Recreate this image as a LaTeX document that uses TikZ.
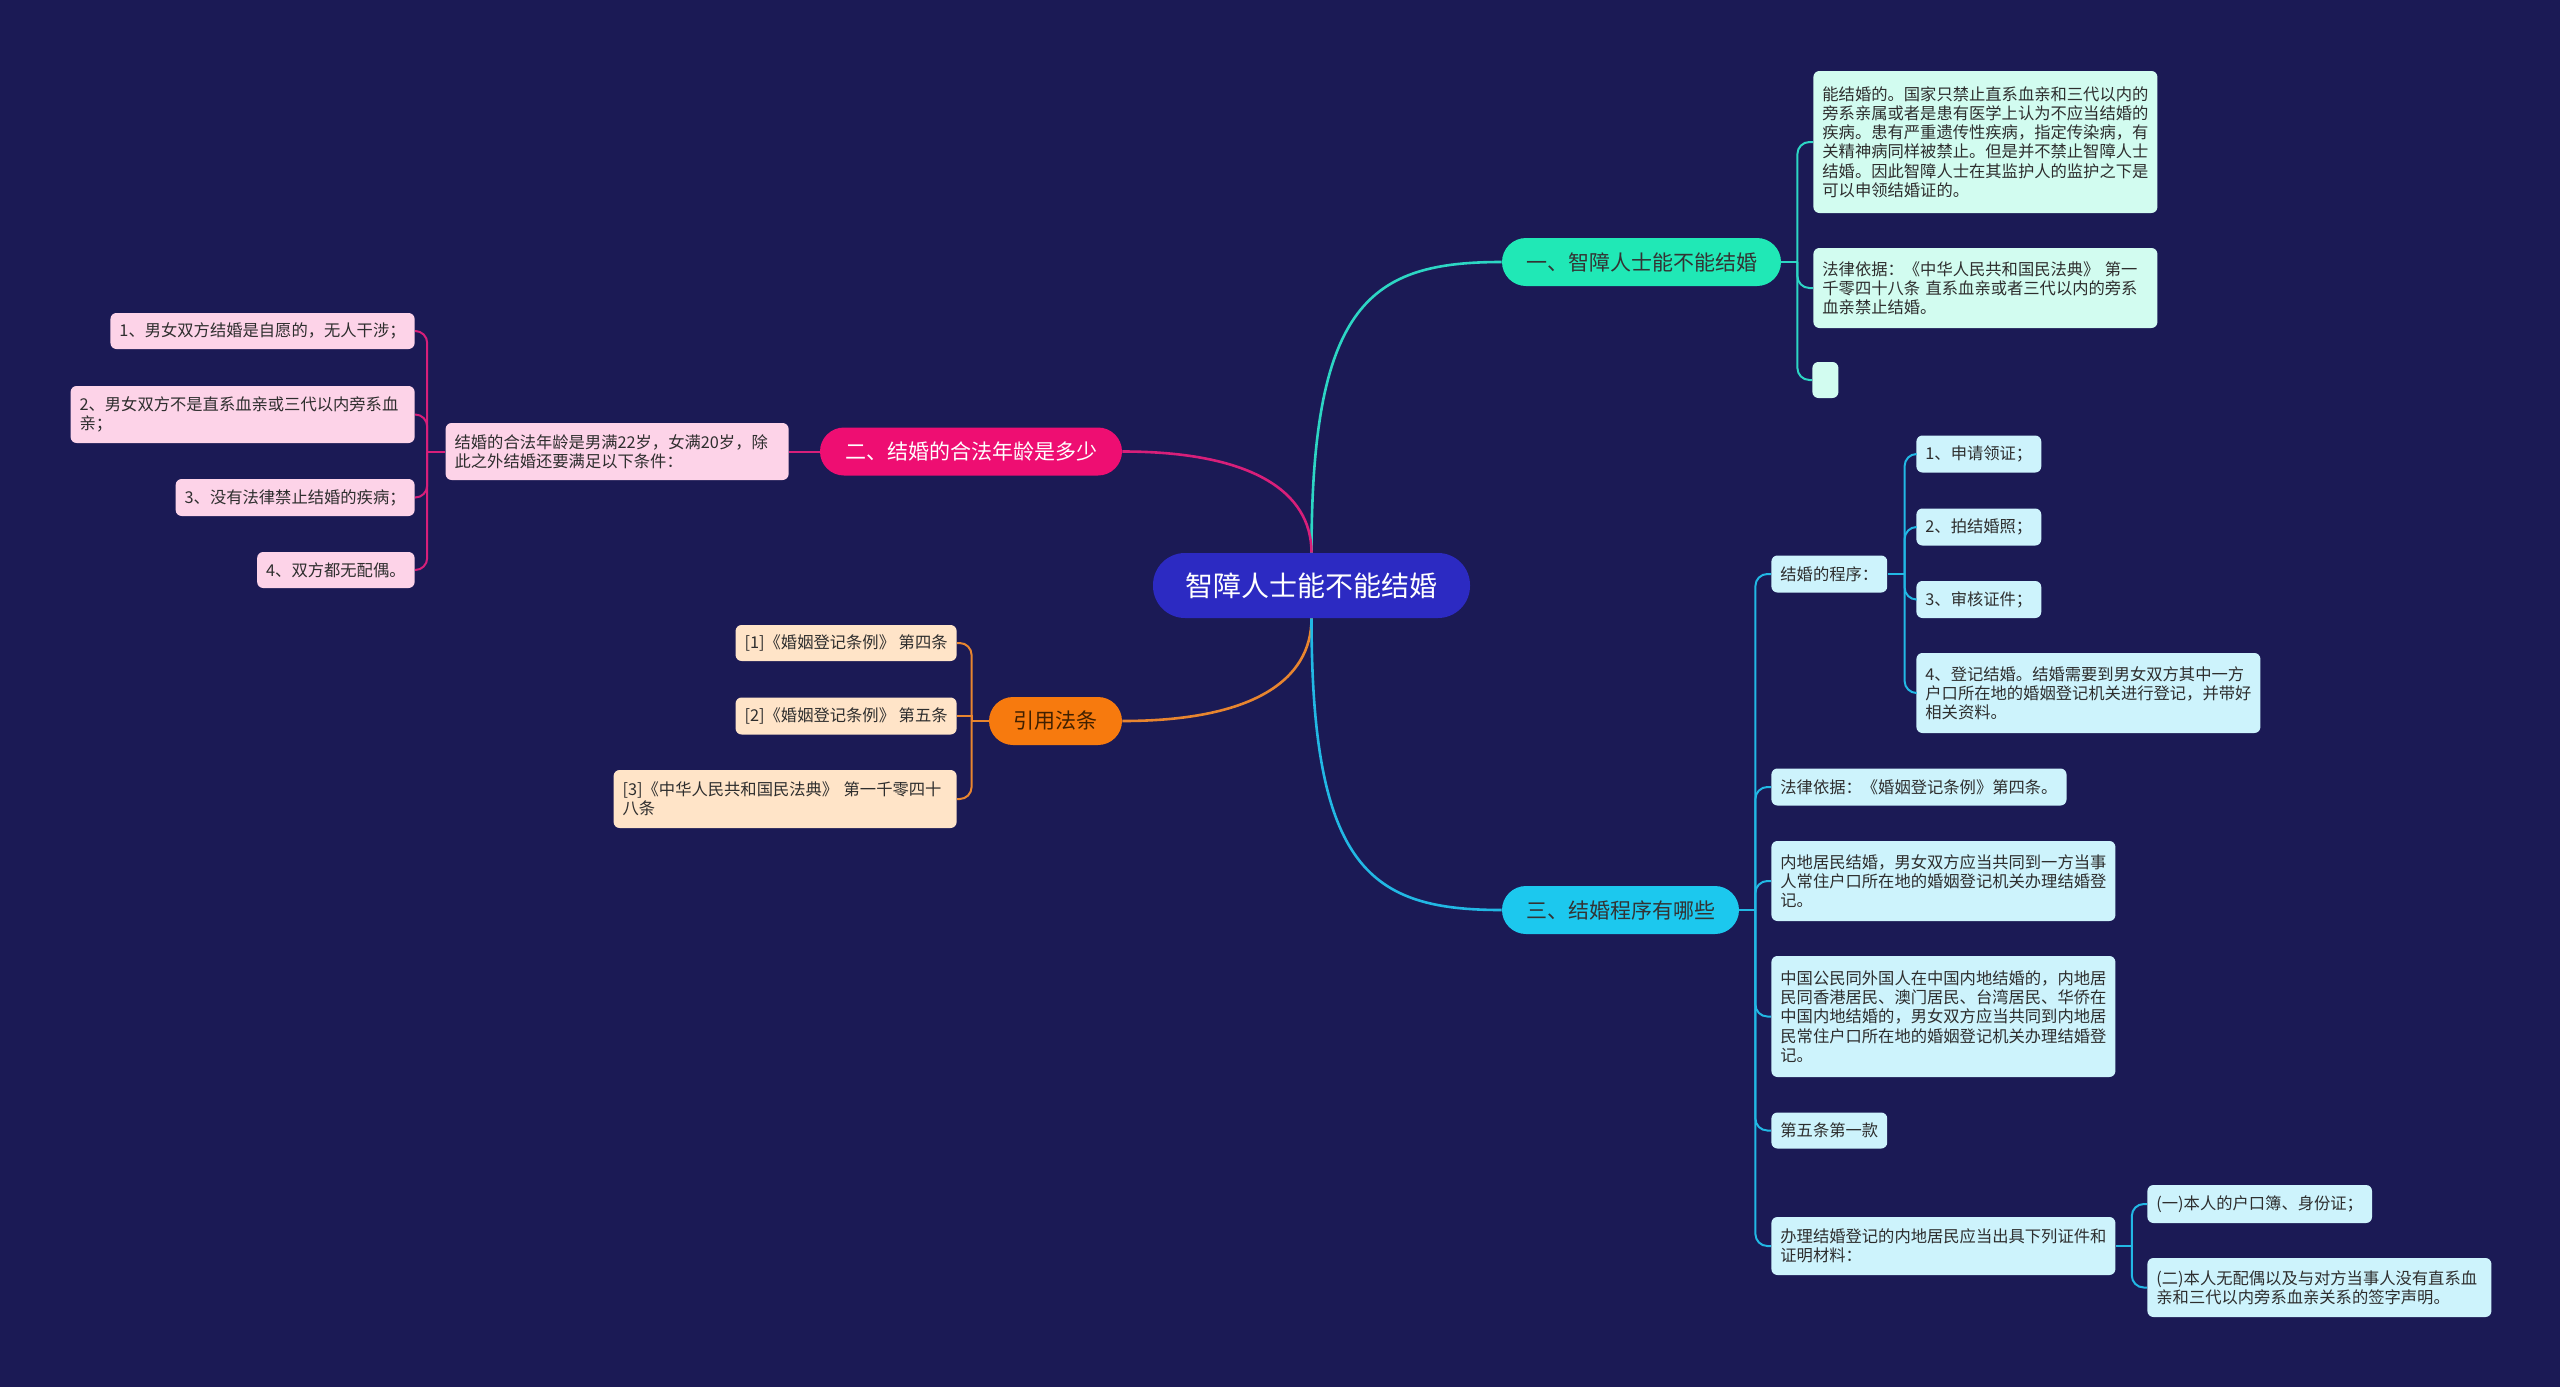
\documentclass[tikz,border=0pt]{standalone}
\usepackage{fontspec}
\setmainfont{Noto Sans CJK SC}
\usepackage{tikz}
\usetikzlibrary{calc}
\definecolor{bgnavy}{HTML}{1B1A55}
\definecolor{rootblue}{HTML}{2C2AC2}
\definecolor{tealfill}{HTML}{20E8B6}
\definecolor{tealline}{HTML}{2DD6C4}
\definecolor{pinkfill}{HTML}{EE0E72}
\definecolor{pinkline}{HTML}{D81F7A}
\definecolor{orangefill}{HTML}{F77A0E}
\definecolor{orangeline}{HTML}{E8852F}
\definecolor{cyanfill}{HTML}{1CC8EE}
\definecolor{cyanline}{HTML}{22B8E4}
\definecolor{mintleaf}{HTML}{D2FCF0}
\definecolor{pinkleaf}{HTML}{FDD3E8}
\definecolor{peachleaf}{HTML}{FFE4C8}
\definecolor{cyanleaf}{HTML}{CDF3FC}
\definecolor{leaftext}{HTML}{2E2E2E}

\begin{document}
\begin{tikzpicture}[x=0.5pt,y=-0.5pt,
  rootbox/.style={fill=rootblue,text=white,rounded corners=16pt,minimum width=158.5pt,minimum height=32.5pt,inner sep=0pt,font=\fontsize{14}{16}\selectfont},
  topic/.style={rounded corners=12pt,minimum height=24pt,inner sep=0pt,font=\fontsize{10.5}{12}\selectfont},
  leaf/.style={rounded corners=3pt,inner xsep=4.5pt,inner ysep=3pt,align=left,text=leaftext,font=\fontsize{8.15}{9.6}\selectfont},
  leaf1/.style={leaf,fill=mintleaf},
  leaf2/.style={leaf,fill=pinkleaf},
  leaf3/.style={leaf,fill=peachleaf},
  leaf4/.style={leaf,fill=cyanleaf},
  main/.style={line width=1.3pt},
  sub/.style={line width=1pt,rounded corners=6pt}]
\fill[bgnavy] (0,0) rectangle (2560,1387);

\node[rootbox] at (1311.5,585.5) (root){智障人士能不能结婚};
\node[topic,fill=tealfill,text=black!80,minimum width=139.5pt] at (1641.5,262) (br1){一、智障人士能不能结婚};
\node[topic,fill=pinkfill,text=white,minimum width=151pt] at (971,451.5) (br2){二、结婚的合法年龄是多少};
\node[topic,fill=orangefill,text=black!75!orange,minimum width=66.5pt] at (1055.5,721) (br3){引用法条};
\node[topic,fill=cyanfill,text=black!80,minimum width=118.5pt] at (1620.5,910) (br4){三、结婚程序有哪些};

\draw[main,tealline] (root.north) .. controls ($(root.north |- br1.west)+(0,40)$) and ($(root.north |- br1.west)+(60,0)$) .. (br1.west);
\draw[main,pinkline] (root.north) .. controls ($(root.north |- br2.east)+(0,40)$) and ($(root.north |- br2.east)+(-60,0)$) .. (br2.east);
\draw[main,orangeline] (root.south) .. controls ($(root.south |- br3.east)+(0,-40)$) and ($(root.south |- br3.east)+(-60,0)$) .. (br3.east);
\draw[main,cyanline] (root.south) .. controls ($(root.south |- br4.west)+(0,-40)$) and ($(root.south |- br4.west)+(60,0)$) .. (br4.west);

\node[leaf1,anchor=west,text width=163pt,minimum height=71pt] at (1813,142) (a11){能结婚的。国家只禁止直系血亲和三代以内的\\旁系亲属或者是患有医学上认为不应当结婚的\\疾病。患有严重遗传性疾病，指定传染病，有\\关精神病同样被禁止。但是并不禁止智障人士\\结婚。因此智障人士在其监护人的监护之下是\\可以申领结婚证的。};
\node[leaf1,anchor=west,text width=163pt,minimum height=40pt] at (1813,288) (a12){法律依据：《中华人民共和国民法典》 第一\\千零四十八条 直系血亲或者三代以内的旁系\\血亲禁止结婚。};
\node[leaf1,anchor=west,minimum width=13pt,minimum height=18pt] at (1812,380) (a13){};
\coordinate (t1) at ([xshift=8pt]br1.east);
\draw[sub,tealline] (br1.east) -- (t1);
\draw[sub,tealline] (t1) |- (a11.west);
\draw[sub,tealline] (t1) |- (a12.west);
\draw[sub,tealline] (t1) |- (a13.west);

\node[leaf2,anchor=east,text width=162.5pt,minimum height=28.5pt] at (789,451.5) (m21){结婚的合法年龄是男满22岁，女满20岁，除\\此之外结婚还要满足以下条件：};
\node[leaf2,anchor=east,minimum height=18pt] at (415,331) (a21){1、男女双方结婚是自愿的，无人干涉；};
\node[leaf2,anchor=east,text width=163pt,minimum height=28.5pt] at (415,414.5) (a22){2、男女双方不是直系血亲或三代以内旁系血\\亲；};
\node[leaf2,anchor=east,minimum height=18.5pt] at (415,497.5) (a23){3、没有法律禁止结婚的疾病；};
\node[leaf2,anchor=east,minimum height=18pt] at (415,570) (a24){4、双方都无配偶。};
\coordinate (t2) at ([xshift=-9pt]m21.west);
\draw[sub,pinkline] (br2.west) -- (m21.east);
\draw[sub,pinkline] (m21.west) -- (t2);
\draw[sub,pinkline] (t2) |- (a21.east);
\draw[sub,pinkline] (t2) |- (a22.east);
\draw[sub,pinkline] (t2) |- (a23.east);
\draw[sub,pinkline] (t2) |- (a24.east);

\node[leaf3,anchor=east,minimum height=18pt] at (957,643) (a31){[1]《婚姻登记条例》 第四条};
\node[leaf3,anchor=east,minimum height=18.5pt] at (957,716) (a32){[2]《婚姻登记条例》 第五条};
\node[leaf3,anchor=east,text width=162.5pt,minimum height=29pt] at (957,799) (a33){[3]《中华人民共和国民法典》 第一千零四十\\八条};
\coordinate (t3) at ([xshift=-8.5pt]br3.west);
\draw[sub,orangeline] (br3.west) -- (t3);
\draw[sub,orangeline] (t3) |- (a31.east);
\draw[line width=1pt,orangeline] (t3) |- (a32.east);
\draw[sub,orangeline] (t3) |- (a33.east);

\node[leaf4,anchor=west,minimum height=18.5pt] at (1771,574) (m41){结婚的程序：};
\node[leaf4,anchor=west,minimum height=18.5pt] at (1771,787) (m42){法律依据：《婚姻登记条例》第四条。};
\node[leaf4,anchor=west,text width=163pt,minimum height=40pt] at (1771,881) (m43){内地居民结婚，男女双方应当共同到一方当事\\人常住户口所在地的婚姻登记机关办理结婚登\\记。};
\node[leaf4,anchor=west,text width=163pt,minimum height=60.5pt] at (1771,1016.5) (m44){中国公民同外国人在中国内地结婚的，内地居\\民同香港居民、澳门居民、台湾居民、华侨在\\中国内地结婚的，男女双方应当共同到内地居\\民常住户口所在地的婚姻登记机关办理结婚登\\记。};
\node[leaf4,anchor=west,minimum height=18pt] at (1771,1130.5) (m45){第五条第一款};
\node[leaf4,anchor=west,text width=163pt,minimum height=29pt] at (1771,1246) (m46){办理结婚登记的内地居民应当出具下列证件和\\证明材料：};
\coordinate (t4) at ([xshift=8pt]br4.east);
\draw[sub,cyanline] (br4.east) -- (t4);
\draw[sub,cyanline] (t4) |- (m41.west);
\draw[sub,cyanline] (t4) |- (m42.west);
\draw[sub,cyanline] (t4) |- (m43.west);
\draw[sub,cyanline] (t4) |- (m44.west);
\draw[sub,cyanline] (t4) |- (m45.west);
\draw[sub,cyanline] (t4) |- (m46.west);

\node[leaf4,anchor=west,minimum height=18.5pt] at (1916,454) (a41){1、申请领证；};
\node[leaf4,anchor=west,minimum height=18.5pt] at (1916,527) (a42){2、拍结婚照；};
\node[leaf4,anchor=west,minimum height=18.5pt] at (1916,599.5) (a43){3、审核证件；};
\node[leaf4,anchor=west,text width=163pt,minimum height=40pt] at (1916,693) (a44){4、登记结婚。结婚需要到男女双方其中一方\\户口所在地的婚姻登记机关进行登记，并带好\\相关资料。};
\coordinate (t5) at ([xshift=8.5pt]m41.east);
\draw[sub,cyanline] (m41.east) -- (t5);
\draw[sub,cyanline] (t5) |- (a41.west);
\draw[sub,cyanline] (t5) |- (a42.west);
\draw[sub,cyanline] (t5) |- (a43.west);
\draw[sub,cyanline] (t5) |- (a44.west);

\node[leaf4,anchor=west,minimum height=19pt] at (2147,1204) (a45){(一)本人的户口簿、身份证；};
\node[leaf4,anchor=west,text width=163pt,minimum height=29.5pt] at (2147,1287.5) (a46){(二)本人无配偶以及与对方当事人没有直系血\\亲和三代以内旁系血亲关系的签字声明。};
\coordinate (t6) at ([xshift=8pt]m46.east);
\draw[sub,cyanline] (m46.east) -- (t6);
\draw[sub,cyanline] (t6) |- (a45.west);
\draw[sub,cyanline] (t6) |- (a46.west);

\end{tikzpicture}
\end{document}
